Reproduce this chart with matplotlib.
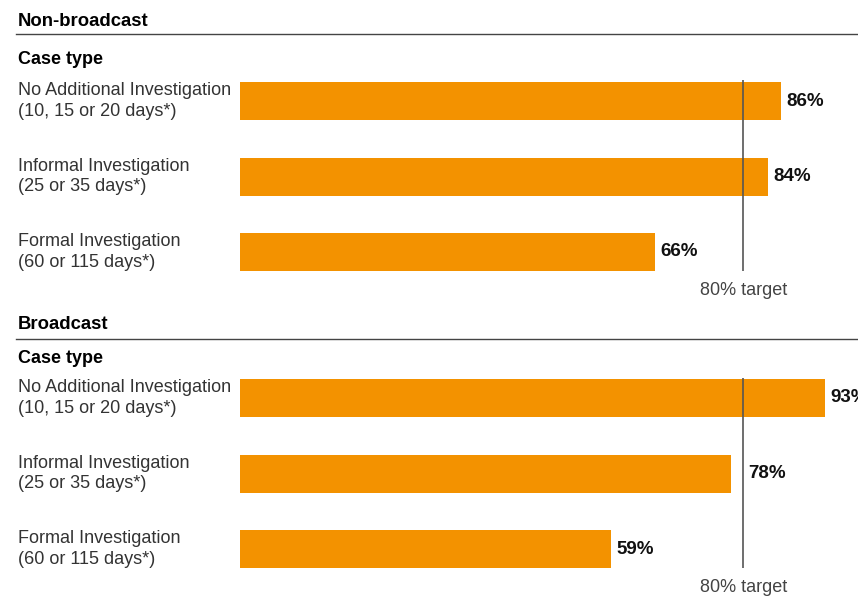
import matplotlib.pyplot as plt
from matplotlib.transforms import blended_transform_factory

plt.rcParams['font.family'] = ['Liberation Sans', 'DejaVu Sans']

W, H = 858, 596

case_labels = [
    'No Additional Investigation\n(10, 15 or 20 days*)',
    'Informal Investigation\n(25 or 35 days*)',
    'Formal Investigation\n(60 or 115 days*)',
]
non_broadcast = [86, 84, 66]
broadcast = [93, 78, 59]
target = 80

panels = [
    # title, values, header baseline, rule y, case type baseline, axes top, first bar centre, axes bottom
    ('Non-broadcast', non_broadcast, 26, 33.5, 64, 80, 101, 271),
    ('Broadcast', broadcast, 329, 338.5, 363, 378, 398, 568),
]

BAR_COLOR = '#F39200'
TEXT_COLOR = '#333333'
ROW_PX = 75.5   # distance between bar centres in pixels
PX_PER_PCT = 6.29
LABEL_PCT = 7   # rough width of a value label, in percentage points


def fx(px):
    return px / W


def fy(py):
    return 1 - py / H


def main():
    fig = plt.figure(figsize=(W / 100, H / 100), dpi=100)

    for title, values, head_y, rule_y, case_y, top, first, bottom in panels:
        fig.text(fx(18), fy(head_y), title, fontsize=13.3, fontweight='bold',
                 color='black', va='baseline', ha='left')
        fig.add_artist(plt.Line2D([fx(16), 1], [fy(rule_y), fy(rule_y)],
                                  color='#444444', lw=1.0))
        fig.text(fx(18), fy(case_y), 'Case type', fontsize=13, fontweight='bold',
                 color='black', va='baseline', ha='left')

        ax = fig.add_axes([fx(240), fy(bottom), 1 - fx(240), (bottom - top) / H])
        ax.set_ylim((bottom - first) / ROW_PX, -(first - top) / ROW_PX)
        ax.set_xlim(0, (W - 240) / PX_PER_PCT)
        ax.barh(range(len(values)), values, height=38 / ROW_PX, color=BAR_COLOR)
        ax.axvline(target, color='#555555', lw=1.2)
        # a label that would run into the target line is moved past it
        for i, v in enumerate(values):
            x = target if target - LABEL_PCT < v < target else v
            ax.text(x + 0.8, i, f'{v}%', fontsize=13.5, fontweight='bold',
                    color='#111111', va='center', ha='left', clip_on=False)
        trans = blended_transform_factory(fig.transFigure, ax.transData)
        for i, lab in enumerate(case_labels):
            ax.text(fx(18), i, lab, transform=trans, fontsize=13, color=TEXT_COLOR,
                    va='center', ha='left', linespacing=1.3)
        ax.annotate(f'{target}% target', xy=(target, 0), xycoords=ax.get_xaxis_transform(),
                    xytext=(0, -24 * 0.72), textcoords='offset points',
                    fontsize=13, color='#444444', va='baseline', ha='center')
        ax.axis('off')

    fig.savefig('out.png', dpi=100)


if __name__ == '__main__':
    main()
